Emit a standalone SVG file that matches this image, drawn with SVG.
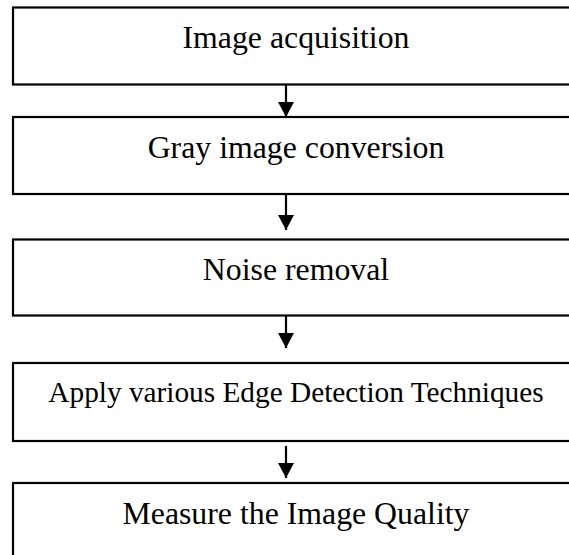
<svg xmlns="http://www.w3.org/2000/svg" width="569" height="555" viewBox="0 0 569 555">
<defs>
<style>
.box{fill:#fff;stroke:#000;stroke-width:2.2}
.lbl{font-family:"Liberation Serif","Times New Roman",serif;font-size:31.8px;fill:#000;text-anchor:middle}
.lbl.sm{font-size:29.3px}
.con{stroke:#000;stroke-width:2.2;fill:none}
</style>
<marker id="ah" viewBox="0 0 15 16" refX="15" refY="8" markerWidth="15" markerHeight="16" markerUnits="userSpaceOnUse" orient="auto">
<path d="M0,0 L15,8 L0,16 z" fill="#000"/>
</marker>
</defs>
<rect width="569" height="555" fill="#fff"/>
<g id="n1"><rect class="box" x="13" y="7.5" width="580" height="77"/><text class="lbl" x="296" y="48">Image acquisition</text></g>
<g id="n2"><rect class="box" x="13" y="117" width="580" height="77"/><text class="lbl" x="296" y="158">Gray image conversion</text></g>
<g id="n3"><rect class="box" x="13" y="239.5" width="580" height="76"/><text class="lbl" x="296" y="280">Noise removal</text></g>
<g id="n4"><rect class="box" x="13" y="363" width="580" height="78"/><text class="lbl sm" x="296" y="402">Apply various Edge Detection Techniques</text></g>
<g id="n5"><rect class="box" x="13" y="483" width="580" height="90"/><text class="lbl" x="296" y="524">Measure the Image Quality</text></g>
<g id="connectors">
<line class="con" x1="286" y1="84.5" x2="286" y2="117" marker-end="url(#ah)"/>
<line class="con" x1="286" y1="194" x2="286" y2="230" marker-end="url(#ah)"/>
<line class="con" x1="286" y1="315.5" x2="286" y2="348" marker-end="url(#ah)"/>
<line class="con" x1="286" y1="446" x2="286" y2="478" marker-end="url(#ah)"/>
</g>
</svg>
